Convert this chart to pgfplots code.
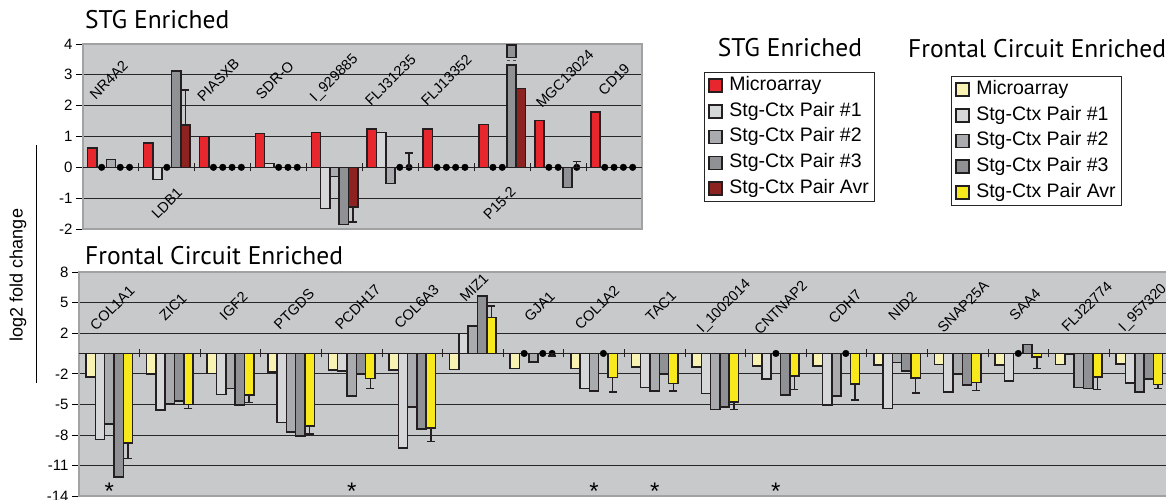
\documentclass[border=0pt]{standalone}
\usepackage{pgfplots}
\pgfplotsset{compat=1.18}
\usepackage{pgfplotstable}
\usepackage{fontspec}
\setmainfont{Liberation Sans}
\newfontfamily\titlefont{PT Sans}
\definecolor{bgc}{HTML}{C8C9CB}
\definecolor{frm}{HTML}{A0A2A4}
\definecolor{edge}{HTML}{231F20}
\definecolor{redc}{HTML}{E8262D}
\definecolor{dred}{HTML}{8C2320}
\definecolor{gA}{HTML}{D6D7D9}
\definecolor{gB}{HTML}{A9ABAE}
\definecolor{gC}{HTML}{8F9194}
\definecolor{pale}{HTML}{F8F3B2}
\definecolor{yel}{HTML}{F7E91B}

% STG enriched: x mi p1 p2 p3 av ; ev = avr value carrying an error bar
\pgfplotstableread{
x mi p1 p2 p3 av ev ep em
0 0.63 0 0.25 0 0 nan 0 0
1 0.79 -0.40 0 3.12 1.38 1.38 1.13 0
2 1.00 0 0 0 0 nan 0 0
3 1.09 0.12 0 0 0 nan 0 0
4 1.13 -1.34 -0.29 -1.86 -1.28 -1.28 0 0.49
5 1.24 1.13 -0.53 0 0 0 0.46 0
6 1.24 0 0 0 0 nan 0 0
7 1.39 0 0 3.32 2.55 nan 0 0
8 1.52 0 0 -0.66 0 0 0.19 0
9 1.79 0 0 0 0 nan 0 0
}\stgdata

% Frontal circuit enriched
\pgfplotstableread{
x mi p1 p2 p3 av ev ep em
0 -2.30 -8.43 -6.95 -12.13 -8.79 -8.79 0 1.54
1 -2.03 -5.57 -4.98 -4.66 -5.02 -5.02 0 0.39
2 -1.97 -4.03 -3.44 -5.08 -4.10 -4.10 0 0.72
3 -1.80 -6.79 -7.70 -8.13 -7.11 -7.11 0 0.82
4 -1.64 -1.74 -4.16 -2.03 -2.46 -2.46 0 0.98
5 -1.64 -9.28 -5.25 -7.44 -7.30 -7.30 0 1.32
6 -1.57 1.97 2.72 5.64 3.51 3.51 1.15 0
7 -1.48 0 -0.82 0 0 0 0 0.25
8 -1.48 -3.44 -3.70 0 -2.36 -2.36 0 1.41
9 -1.31 -3.34 -3.70 -2.03 -2.95 -2.95 0 0.72
10 -1.31 -3.93 -5.51 -5.25 -4.75 -4.75 0 0.76
11 -1.25 -2.52 0 -4.10 -2.20 -2.20 0 1.34
12 -1.25 -5.08 -4.16 0 -3.02 -3.02 0 1.57
13 -1.15 -5.41 -0.89 -1.70 -2.39 -2.39 0 1.48
14 -1.08 -3.77 -2.03 -3.11 -2.85 -2.85 0 0.76
15 -1.15 -2.72 0 0.89 -0.33 -0.33 0 1.15
16 -1.08 -0.05 -3.34 -3.44 -2.30 -2.30 0 1.24
17 -1.05 -2.89 -3.77 -2.52 -3.05 -3.05 0 0.39
}\fcdata

\pgfplotsset{
  barst/.style={ybar, bar width=9.3pt, bar shift=#1, draw=edge, line width=1.5pt},
  sqleg/.style={legend image code/.code={\draw[##1, line width=1.5pt] (0pt,-6.5pt) rectangle (13pt,6.5pt);}},
  dotst/.style={only marks, mark=*, mark size=3.3pt, mark options={fill=black, draw=black},
     xshift=#1, restrict y to domain=-0.001:0.001, forget plot},
  errst/.style={draw=none, mark=none, xshift=#1, forget plot,
     error bars/.cd, y dir=both, y explicit,
     error bar style={draw=edge, line width=1.4pt},
     error mark options={draw=edge, rotate=90, mark size=4pt, line width=1.4pt}},
  chart/.style={
     scale only axis, anchor=south west,
     xtick=\empty,
     axis background/.style={fill=bgc},
     axis line style={draw=frm, line width=2.5pt},
     ymajorgrids, grid style={draw=black!85, line width=0.7pt},
     tick align=outside, ytick pos=left, major tick length=7pt,
     tick style={draw=black, line width=0.8pt},
     yticklabel style={font=\fontsize{15}{15}\selectfont},
     /pgf/number format/assume math mode=true,
     clip mode=individual,
     legend cell align=left,
     legend style={anchor=north west, draw=black!85, line width=0.8pt, fill=white,
        font=\fontsize{19.5}{20}\selectfont, inner xsep=4pt, inner ysep=2.5pt,
        nodes={inner sep=1.5pt, text height=14pt, text depth=4.5pt}, row sep=4.2pt,
        /tikz/every odd column/.append style={column sep=5pt}},
  },
}

\begin{document}
\begin{tikzpicture}[x=1pt,y=1pt]
\path[use as bounding box] (0,0) rectangle (1166,500);

% ---------------- STG enriched ----------------
\begin{axis}[chart, at={(83pt,271pt)}, width=559pt, height=185pt,
  xmin=-0.5, xmax=9.5, ymin=-2, ymax=4, ytick={-2,-1,0,1,2,3,4},
  legend style={at={(1.1109,0.8486)}}]
\draw[edge, line width=1pt] (axis cs:-0.5,0) -- (axis cs:9.5,0);
\pgfplotsinvokeforeach{0,...,8}{\draw[edge, line width=0.9pt] (axis cs:#1.5,0) ++(0pt,-4pt) -- ++(0pt,8pt);}
\addplot[barst=-18.6pt, fill=redc, sqleg] table[x=x, y=mi] {\stgdata};
\addplot[barst=-9.3pt, fill=gA, sqleg] table[x=x, y=p1] {\stgdata};
\addplot[barst=0pt, fill=gB, sqleg] table[x=x, y=p2] {\stgdata};
\addplot[barst=9.3pt, fill=gC, sqleg] table[x=x, y=p3] {\stgdata};
\addplot[barst=18.6pt, fill=dred, sqleg] table[x=x, y=av] {\stgdata};
\legend{Microarray, Stg-Ctx Pair \#1, Stg-Ctx Pair \#2, Stg-Ctx Pair \#3, Stg-Ctx Pair Avr}
\addplot[dotst=-9.3pt] table[x=x, y=p1] {\stgdata};
\addplot[dotst=0pt] table[x=x, y=p2] {\stgdata};
\addplot[dotst=9.3pt] table[x=x, y=p3] {\stgdata};
\addplot[dotst=18.6pt] table[x=x, y=av] {\stgdata};
\addplot[errst=18.6pt] table[x=x, y=ev, y error plus=ep, y error minus=em] {\stgdata};
% off-scale marker above the P15-2 pair #3 bar
\draw[draw=black!70, dashed, line width=1pt] (axis cs:7.0832,3.45) -- (axis cs:7.2496,3.45);
\draw[fill=gC, draw=edge, line width=1.5pt] (axis cs:7.0832,3.57) rectangle (axis cs:7.2496,3.96);
\begin{scope}[every node/.style={rotate=45, font=\fontsize{14.5}{15}\selectfont}]
\node at (axis cs:-0.04,2.83) {NR4A2};
\node at (axis cs:1,-1.17) {LDB1};
\node at (axis cs:1.92,2.83) {PIASXB};
\node at (axis cs:2.93,2.83) {SDR-O};
\node at (axis cs:4.0,2.88) {I\_929885};
\node at (axis cs:5.0,2.83) {FLJ31235};
\node at (axis cs:6.0,2.83) {FLJ13352};
\node at (axis cs:6.95,-1.17) {P15-2};
\node at (axis cs:8.12,2.87) {MGC13024};
\node at (axis cs:9.0,2.85) {CD19};
\end{scope}
\end{axis}

% ---------------- Frontal circuit enriched ----------------
\begin{axis}[chart, at={(79pt,4pt)}, width=1090.8pt, height=224pt,
  xmin=-0.5, xmax=17.5, ymin=-14, ymax=8, ytick={-14,-11,-8,-5,-2,2,5,8},
  legend style={at={(0.7993,1.875)}}]
\draw[edge, line width=1pt] (axis cs:-0.5,0) -- (axis cs:17.5,0);
\pgfplotsinvokeforeach{0,...,16}{\draw[edge, line width=0.9pt] (axis cs:#1.5,0) ++(0pt,-4pt) -- ++(0pt,8pt);}
\addplot[barst=-18.6pt, fill=pale, sqleg] table[x=x, y=mi] {\fcdata};
\addplot[barst=-9.3pt, fill=gA, sqleg] table[x=x, y=p1] {\fcdata};
\addplot[barst=0pt, fill=gB, sqleg] table[x=x, y=p2] {\fcdata};
\addplot[barst=9.3pt, fill=gC, sqleg] table[x=x, y=p3] {\fcdata};
\addplot[barst=18.6pt, fill=yel, sqleg] table[x=x, y=av] {\fcdata};
\legend{Microarray, Stg-Ctx Pair \#1, Stg-Ctx Pair \#2, Stg-Ctx Pair \#3, Stg-Ctx Pair Avr}
\addplot[dotst=-9.3pt] table[x=x, y=p1] {\fcdata};
\addplot[dotst=0pt] table[x=x, y=p2] {\fcdata};
\addplot[dotst=9.3pt] table[x=x, y=p3] {\fcdata};
\addplot[dotst=18.6pt] table[x=x, y=av] {\fcdata};
\addplot[errst=18.6pt] table[x=x, y=ev, y error plus=ep, y error minus=em] {\fcdata};
\begin{scope}[every node/.style={rotate=45, font=\fontsize{14.5}{15}\selectfont}]
\node at (axis cs:0.05,4.45) {COL1A1};
\node at (axis cs:1.05,4.55) {ZIC1};
\node at (axis cs:2.05,4.65) {IGF2};
\node at (axis cs:3.05,4.35) {PTGDS};
\node at (axis cs:4.1,4.55) {PCDH17};
\node at (axis cs:5.07,4.6) {COL6A3};
\node at (axis cs:6.02,6.45) {MIZ1};
\node at (axis cs:7.1,4.6) {GJA1};
\node at (axis cs:8.05,4.5) {COL1A2};
\node at (axis cs:9.1,4.65) {TAC1};
\node at (axis cs:10.15,4.6) {I\_1002014};
\node at (axis cs:11.08,4.5) {CNTNAP2};
\node at (axis cs:12.14,4.6) {CDH7};
\node at (axis cs:13.09,4.65) {NID2};
\node at (axis cs:14.09,4.6) {SNAP25A};
\node at (axis cs:15.11,4.8) {SAA4};
\node at (axis cs:16.13,4.6) {FLJ22774};
\node at (axis cs:17.06,4.45) {I\_957320};
\end{scope}
\begin{scope}[every node/.style={font=\fontsize{24}{24}\selectfont}]
\node at (axis cs:0,-13.5) {*};
\node at (axis cs:4,-13.5) {*};
\node at (axis cs:8,-13.5) {*};
\node at (axis cs:9,-13.5) {*};
\node at (axis cs:11,-13.5) {*};
\end{scope}
\end{axis}

% titles and labels
\node[anchor=base west, inner sep=0pt, font=\titlefont\fontsize{25.5}{26}\selectfont] at (85,471) {STG Enriched};
\node[anchor=base west, inner sep=0pt, font=\titlefont\fontsize{25.5}{26}\selectfont] at (85,235) {Frontal Circuit Enriched};
\node[anchor=base, inner sep=0pt, font=\titlefont\fontsize{25.5}{26}\selectfont] at (790,443) {STG Enriched};
\node[anchor=base west, inner sep=0pt, font=\titlefont\fontsize{25.5}{26}\selectfont] at (908,442) {Frontal Circuit Enriched};
\node[rotate=90, inner sep=0pt, font=\fontsize{18}{18}\selectfont] at (18,225) {log2 fold change};
\draw[line width=0.9pt] (36,117) -- (36,355);
\end{tikzpicture}
\end{document}
